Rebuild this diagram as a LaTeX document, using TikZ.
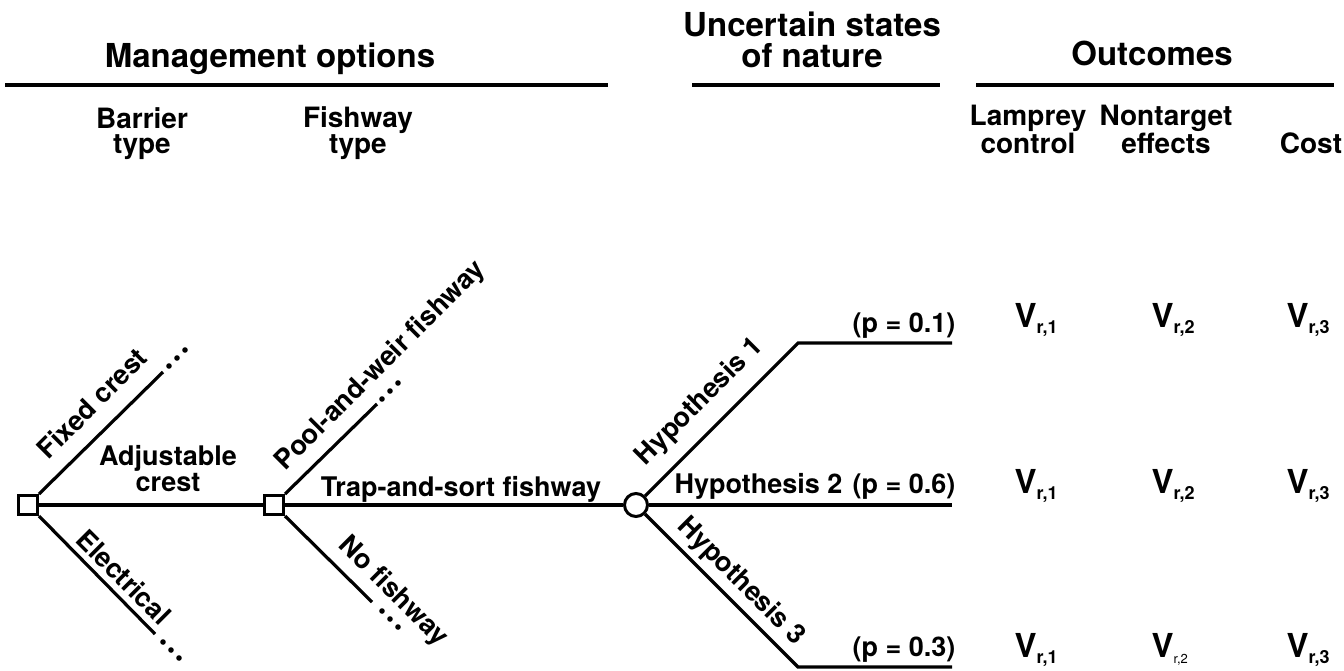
\documentclass[tikz,border=0pt]{standalone}
\usepackage{fontspec}
\setmainfont{TeX Gyre Heros}
\newcommand{\Vout}[1]{{\fontsize{33}{33}\selectfont V}\raisebox{-6pt}{\fontsize{18}{18}\selectfont #1}}
\newcommand{\Vthin}[1]{{\fontsize{33}{33}\selectfont V}\raisebox{-6pt}{\mdseries\fontsize{13}{13}\selectfont #1}}
\begin{document}
\begin{tikzpicture}[x=1pt,y=-1pt,line width=3.2pt,
  hd/.style={font=\fontsize{33}{31}\selectfont\bfseries,inner sep=0pt,align=center},
  sub/.style={font=\fontsize{28}{25}\selectfont\bfseries,inner sep=0pt,align=center},
  lbl/.style={font=\fontsize{27}{26}\selectfont\bfseries,inner sep=0pt,align=center},
  outv/.style={font=\bfseries,inner sep=0pt,anchor=base west},
  dec/.style={draw,line width=3pt,minimum size=19pt,inner sep=0pt,fill=white},
  chance/.style={draw,circle,line width=3pt,minimum size=23pt,inner sep=0pt,fill=white},
  hline/.style={line width=4pt},
  dot/.style={fill=black}]
\useasboundingbox (0,0) rectangle (1344,670);

% header rules
\coordinate (m1) at (5,85);   \coordinate (m2) at (608,85);
\coordinate (u1) at (692,85); \coordinate (u2) at (940,85);
\coordinate (o1) at (976,85); \coordinate (o2) at (1334,85);
\draw[hline] (m1) -- (m2);
\draw[hline] (u1) -- (u2);
\draw[hline] (o1) -- (o2);

% headings
\node[hd,anchor=base] (mo) at (270,67) {Management options};
\node[hd,anchor=base] (us) at (812,67) {Uncertain states\\of nature};
\node[hd,anchor=base] (oc) at (1152,65) {Outcomes};

\node[sub,anchor=base] (bt) at (142,153) {Barrier\\type};
\node[sub,anchor=base] (ft) at (358,153) {Fishway\\type};
\node[sub,anchor=base] (lc) at (1028,153) {Lamprey\\control};
\node[sub,anchor=base] (ne) at (1166,153) {Nontarget\\effects};
\node[sub,anchor=base] (co) at (1311,153) {Cost};

% decision and chance nodes
\node[dec] (b1) at (28,505) {};
\node[dec] (b2) at (274,505) {};
\node[chance] (c) at (636,505) {};

% branch end points
\coordinate (fc) at (163,372);
\coordinate (el) at (155,634);
\coordinate (pw) at (377,404);
\coordinate (nf) at (372,602);
\coordinate (h1a) at (798,343); \coordinate (h1b) at (952,343);
\coordinate (h2) at (952,505);
\coordinate (h3a) at (798,667); \coordinate (h3b) at (952,667);

\draw (b1) -- (b2);
\draw (b1.north east) -- (fc);
\draw (b1.south east) -- (el);
\draw (b2) -- (c);
\draw (b2.north east) -- (pw);
\draw (b2.south east) -- (nf);
\draw (c.45) -- (h1a) -- (h1b);
\draw (c) -- (h2);
\draw (c.-45) -- (h3a) -- (h3b);

% continuation dots
\foreach \p in {(169,366),(177,358),(185,350),
                (163,642),(171,650),(179,658),
                (382,399),(390,391),(398,383),
                (382,611),(390,619),(398,627)}
  \fill[dot] \p circle (2.8pt);

% branch labels
\node[lbl,rotate=45] (lfc) at (92,403) {Fixed crest};
\node[lbl,rotate=-45] (lel) at (124,577) {Electrical};
\node[lbl] (lac) at (168,469) {Adjustable\\crest};
\node[lbl,rotate=45] (lpw) at (381,366) {Pool-and-weir fishway};
\node[lbl,anchor=base] (lts) at (461,496) {Trap-and-sort fishway};
\node[lbl,rotate=-45] (lnf) at (393,592) {No fishway};
\node[lbl,rotate=45] (lh1) at (700,402) {Hypothesis 1};
\node[lbl,anchor=base west] (lh2) at (673,493) {Hypothesis 2};
\node[lbl,rotate=-45] (lh3) at (741,582) {Hypothesis 3};
\node[lbl,anchor=base east] (p1) at (957,332) {(p = 0.1)};
\node[lbl,anchor=base east] (p2) at (957,493) {(p = 0.6)};
\node[lbl,anchor=base east] (p3) at (957,656) {(p = 0.3)};

% outcomes
\node[outv] (v11) at (1013,327) {\Vout{r,1}};
\node[outv] (v12) at (1150,327) {\Vout{r,2}};
\node[outv] (v13) at (1285,327) {\Vout{r,3}};
\node[outv] (v21) at (1013,493) {\Vout{r,1}};
\node[outv] (v22) at (1150,493) {\Vout{r,2}};
\node[outv] (v23) at (1285,493) {\Vout{r,3}};
\node[outv] (v31) at (1013,657) {\Vout{r,1}};
\node[outv] (v32) at (1150,657) {\Vthin{r,2}};
\node[outv] (v33) at (1285,657) {\Vout{r,3}};
\end{tikzpicture}
\end{document}
